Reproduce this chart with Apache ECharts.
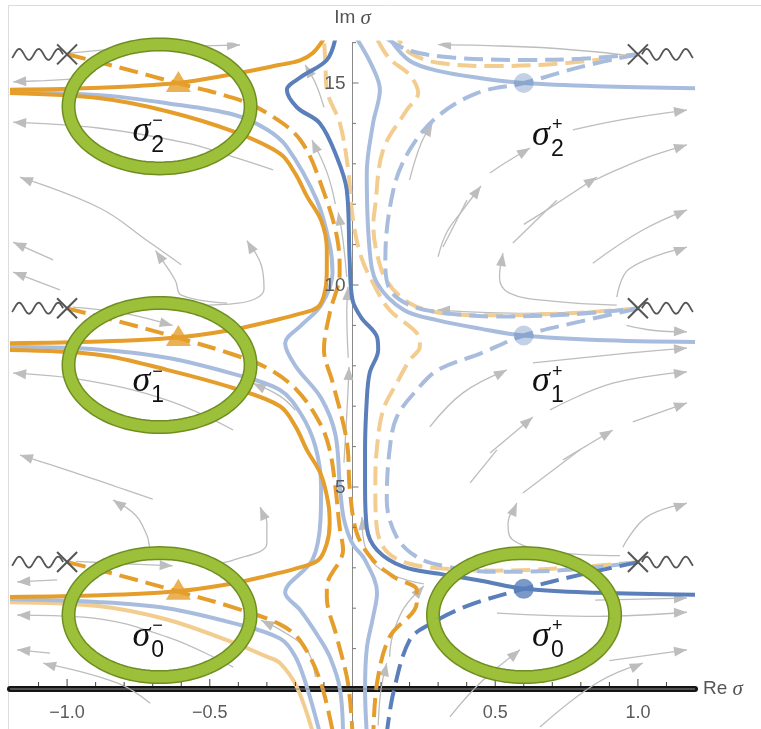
<!DOCTYPE html>
<html>
<head>
<meta charset="utf-8">
<script src="https://cdn.jsdelivr.net/npm/echarts@6.0.0/dist/echarts.min.js"></script>
<style>
  html, body { margin: 0; padding: 0; background: #ffffff; }
  #chart { width: 761px; height: 729px; }
</style>
</head>
<body>
<div id="chart"></div>
<script>
// ---------- axes ----------
const xRange = [-1.2, 1.2];
const yRange = [-1, 16];
const xMajorTicks = [-1.0, -0.5, 0.5, 1.0];
const xTickLabels = ['\u22121.0', '\u22120.5', '0.5', '1.0'];
const xMinorTicks = [-1.1, -0.9, -0.8, -0.7, -0.6, -0.4, -0.3, -0.2, -0.1, 0.1, 0.2, 0.3, 0.4, 0.6, 0.7, 0.8, 0.9, 1.1];
const yMajorTicks = [5, 10, 15];
const yTickLabels = ['5', '10', '15'];
const yMinorTicks = [1, 2, 3, 4, 6, 7, 8, 9, 11, 12, 13, 14, 16];

// ---------- special points ----------
const saddlesMinus = [[-0.61, 2.42], [-0.61, 8.70], [-0.61, 14.99]];
const saddlesPlus = [[0.6, 2.48], [0.6, 8.75], [0.6, 15.0]];
const branchPoints = [[-1, 3.1416], [-1, 9.4248], [-1, 15.708], [1, 3.1416], [1, 9.4248], [1, 15.708]];
const branchCutEnds = [-1.2, -1.2, -1.2, 1.2, 1.2, 1.2];
const ellipseCenters = [[-0.676, 1.83], [-0.676, 8.02], [-0.676, 14.42], [0.601, 1.83]];
const ellipseRadii = [0.319, 1.535];
const labelAnchors = [[-0.74, 1.3], [-0.74, 7.6], [-0.74, 13.8], [0.66, 1.3], [0.66, 7.6], [0.66, 13.7]];
const labelSubs = ['0', '1', '2', '0', '1', '2'];
const labelSups = ['\u2212', '\u2212', '\u2212', '+', '+', '+'];

// ---------- contour curves ----------
// solid orange lines through the left saddles
const orangeSolid0 = [[-1.2,2.28],[-0.884,2.32],[-0.615,2.42],[-0.43,2.6],[-0.3,2.8],[-0.2,2.98],[-0.12,3.19],[-0.09,3.6],[-0.08,4.1],[-0.085,4.6],[-0.11,5.3],[-0.16,5.92],[-0.2,6.5],[-0.254,7.0],[-0.418,7.45],[-0.65,7.9],[-0.884,8.27],[-1.2,8.39]];
const orangeSolid1 = [[-1.2,8.56],[-0.884,8.6],[-0.615,8.70],[-0.43,8.88],[-0.3,9.08],[-0.2,9.26],[-0.12,9.46],[-0.095,9.9],[-0.09,10.4],[-0.09,10.9],[-0.11,11.6],[-0.16,12.2],[-0.2,12.75],[-0.254,13.25],[-0.418,13.8],[-0.65,14.3],[-0.884,14.62],[-1.2,14.75]];
const orangeSolid2 = [[-1.2,14.83],[-0.884,14.88],[-0.615,15.0],[-0.418,15.22],[-0.254,15.45],[-0.184,15.56],[-0.138,15.75],[-0.1,16.1]];
const paleOrangeSolid0 = [[-1.2,2.15],[-0.884,2.05],[-0.65,1.72],[-0.418,1.15],[-0.3,0.8],[-0.254,0.64],[-0.195,0.05],[-0.138,-1.1]];
// pale blue solid lines below the left saddles
const blueSoftSolid0 = [[-1.2,2.22],[-0.884,2.15],[-0.65,2.0],[-0.418,1.63],[-0.254,1.25],[-0.2,0.8],[-0.16,0.05],[-0.114,-1.1]];
const blueSoftSolid1 = [[-1.2,8.47],[-0.884,8.4],[-0.65,8.2],[-0.418,7.8],[-0.254,7.4],[-0.18,6.8],[-0.13,6.0],[-0.11,5.0],[-0.112,4.2],[-0.14,3.2],[-0.236,2.38],[-0.184,1.96],[-0.12,1.3],[-0.079,0.79],[-0.044,0.0],[-0.033,-1.1]];
const blueSoftSolid2 = [[-1.2,14.78],[-0.884,14.7],[-0.65,14.5],[-0.418,14.22],[-0.3,13.85],[-0.23,13.42],[-0.125,12.1],[-0.08,11.0],[-0.07,10.3],[-0.11,9.5],[-0.18,9.0],[-0.236,8.56],[-0.2,8.0],[-0.11,7.2],[-0.06,6.3],[-0.044,5.0],[-0.03,4.2],[0.0,3.6],[0.044,3.19],[0.086,2.38],[0.072,1.78],[0.05,1.0],[0.044,-0.02],[0.05,-1.1]];
// dashed orange lines from the left branch points
const orangeDash0 = [[-1.0,3.14],[-0.825,2.83],[-0.615,2.42],[-0.418,2.02],[-0.254,1.6],[-0.184,1.2],[-0.114,0.22],[-0.068,-1.1]];
const orangeDash1 = [[-1.0,9.42],[-0.825,9.11],[-0.615,8.70],[-0.418,8.28],[-0.3,7.95],[-0.195,7.4],[-0.114,6.58],[-0.08,5.92],[-0.06,5.0],[-0.045,4.0],[-0.033,3.44],[-0.09,2.52],[-0.09,2.28],[-0.055,1.29],[-0.016,0.15],[0.0,-1.1]];
const orangeDash2 = [[-1.0,15.71],[-0.825,15.4],[-0.615,15.0],[-0.418,14.63],[-0.31,14.3],[-0.184,13.6],[-0.103,12.35],[-0.05,11.0],[-0.045,10.3],[-0.08,9.3],[-0.1,8.4],[-0.07,7.6],[-0.03,6.5],[-0.016,5.9],[-0.01,5.0],[0.015,3.86],[0.072,3.19],[0.15,2.75],[0.225,2.45],[0.225,2.13],[0.13,1.29],[0.086,0.15],[0.073,-1.1]];
// solid blue lines through the right saddles
const blueSolid0 = [[1.2,2.33],[0.856,2.38],[0.6,2.48],[0.45,2.68],[0.306,2.85],[0.18,3.02],[0.086,3.44],[0.05,4.0],[0.044,5.0],[0.044,5.92],[0.05,7.15],[0.06,7.82],[0.09,8.4],[0.086,8.71],[0.03,9.2],[0.0,9.63],[-0.01,10.62],[-0.02,12.35],[-0.055,13.17],[-0.114,14.0],[-0.195,14.4],[-0.23,14.83],[-0.18,15.15],[-0.09,15.57],[-0.06,16.1]];
const blueSoftSolid1R = [[1.2,8.59],[0.856,8.64],[0.6,8.75],[0.447,8.92],[0.296,9.13],[0.18,9.38],[0.086,10.05],[0.06,10.87],[0.05,12.77],[0.072,14.0],[0.096,14.83],[0.07,15.4],[0.015,16.1]];
const blueSoftSolid2R = [[1.2,14.87],[0.856,14.92],[0.6,15.0],[0.45,15.12],[0.3,15.3],[0.2,15.55],[0.13,16.1]];
// dashed blue lines from the right branch points
const blueDash0 = [[1.0,3.14],[0.8,2.83],[0.6,2.48],[0.4,2.05],[0.27,1.6],[0.2,1.21],[0.143,-0.1],[0.12,-1.1]];
const blueSoftDash1 = [[1.0,9.42],[0.8,9.1],[0.6,8.75],[0.447,8.3],[0.3,7.9],[0.225,7.4],[0.155,6.73],[0.13,5.92],[0.12,4.68],[0.155,3.76],[0.225,3.27],[0.317,3.05],[0.5,2.9],[0.76,2.95],[1.0,3.14]];
const blueSoftDash2 = [[1.0,15.71],[0.8,15.4],[0.6,15.0],[0.436,14.75],[0.296,14.16],[0.2,13.34],[0.143,12.35],[0.115,10.62],[0.13,9.9],[0.2,9.5],[0.3,9.33],[0.5,9.22],[0.76,9.27],[1.0,9.42]];
const blueSoftDash3 = [[0.12,16.1],[0.2,15.8],[0.35,15.63],[0.6,15.57],[0.8,15.6],[1.0,15.71]];
// pale orange dashed lines
const paleOrangeDash0 = [[1.0,3.14],[0.76,3.0],[0.5,2.93],[0.317,2.98],[0.2,3.1],[0.12,3.4],[0.085,4.0],[0.08,5.0],[0.085,5.92],[0.107,6.9],[0.155,7.57],[0.2,8.14],[0.236,8.47],[0.225,8.81],[0.13,9.38],[0.072,10.05],[0.03,10.7],[0.002,11.6],[-0.016,12.9],[-0.044,14.0],[-0.09,14.83],[-0.095,15.5],[-0.1,16.1]];
const paleOrangeDash1 = [[1.0,9.42],[0.76,9.3],[0.5,9.25],[0.317,9.3],[0.2,9.55],[0.12,10.1],[0.085,10.8],[0.073,11.5],[0.079,11.93],[0.107,13.34],[0.19,14.33],[0.23,14.75],[0.2,15.2],[0.13,15.6],[0.085,16.1]];
const paleOrangeDash2 = [[1.0,15.71],[0.76,15.5],[0.5,15.42],[0.3,15.5],[0.2,15.75],[0.16,16.1]];

// ---------- flow lines (each ends at its arrow tip) ----------
const flowLines = [
  [[-0.99,15.74],[-0.77,15.87],[-0.534,15.92],[-0.394,15.94]],
  [[-0.97,15.1],[-1.08,15.06],[-1.189,15.03]],
  [[-0.278,12.85],[-0.418,13.17],[-0.58,13.51],[-0.884,13.88],[-1.189,14.03]],
  [[-0.6,10.5],[-0.72,11.1],[-0.884,11.9],[-1.165,12.67]],
  [[-1.049,10.62],[-1.189,11.06]],
  [[-1.025,9.88],[-1.189,10.32]],
  [[-0.44,9.55],[-0.6,9.75],[-0.62,10.1],[-0.66,10.55],[-0.69,10.85]],
  [[-0.55,9.5],[-0.4,9.55],[-0.31,9.9],[-0.32,10.5],[-0.37,11.1]],
  [[-0.98,9.45],[-0.8,9.3],[-0.63,9.0]],
  [[-0.418,6.41],[-0.65,7.15],[-0.944,7.65],[-1.189,7.82]],
  [[-0.7,4.7],[-0.825,5.0],[-1.0,5.42],[-1.165,5.79]],
  [[-0.6,3.2],[-0.7,3.4],[-0.72,3.8],[-0.76,4.3],[-0.839,4.68]],
  [[-0.5,3.1],[-0.418,3.19],[-0.3,3.6],[-0.3,4.1],[-0.324,4.5]],
  [[-0.97,3.16],[-0.8,3.1],[-0.63,3.05]],
  [[-1.035,2.7],[-1.175,2.65]],
  [[-0.418,0.54],[-0.65,1.29],[-0.944,1.78],[-1.175,1.83]],
  [[-1.06,0.89],[-1.175,0.97]],
  [[-0.709,-0.35],[-0.825,0.15],[-1.084,0.64]],
  [[-0.2,6.9],[-0.254,7.25],[-0.349,7.57]],
  [[-0.13,0.3],[-0.16,0.97],[-0.25,1.45],[-0.32,1.7]],
  [[-0.1,14.4],[-0.13,15.0],[-0.166,15.45]],
  [[0.96,15.69],[0.7,15.86],[0.45,15.93],[0.3,15.95]],
  [[0.772,13.84],[0.95,14.1],[1.172,14.33]],
  [[0.85,12.6],[0.926,12.85],[1.05,13.2],[1.172,13.47]],
  [[0.3,10.7],[0.33,11.3],[0.387,11.86],[0.45,12.45]],
  [[0.482,12.77],[0.53,13.0],[0.622,13.39]],
  [[0.6,11.5],[0.681,11.86],[0.856,12.67]],
  [[0.842,10.54],[1.017,11.36],[1.172,11.86]],
  [[0.926,9.7],[0.97,10.4],[1.172,10.94]],
  [[0.97,9.42],[0.62,9.3],[0.296,9.38]],
  [[0.96,9.0],[1.05,8.88],[1.172,8.84]],
  [[0.632,8.07],[0.972,8.32],[1.172,8.44]],
  [[0.692,6.91],[0.912,7.57],[1.172,7.85]],
  [[0.982,6.61],[1.172,7.08]],
  [[0.271,6.49],[0.387,7.33],[0.541,7.9]],
  [[0.482,5.84],[0.632,6.73]],
  [[0.737,5.67],[0.912,6.41]],
  [[0.926,9.5],[0.7,9.6],[0.55,9.8],[0.515,10.2],[0.527,10.79]],
  [[0.947,3.51],[1.031,4.26],[1.172,4.6]],
  [[0.937,3.3],[0.7,3.4],[0.56,3.7],[0.545,4.1],[0.576,4.6]],
  [[0.85,2.2],[1.172,2.25]],
  [[0.506,1.88],[0.856,1.8],[1.172,1.9]],
  [[0.9,0.7],[1.172,0.97]],
  [[0.341,-0.69],[0.447,0.15],[0.587,0.97]],
  [[0.657,-0.94],[0.856,0.15],[1.017,0.64]],
  [[0.2,12.6],[0.24,13.5],[0.28,14.0]],
  [[-0.015,8.2],[-0.02,9.3],[-0.016,9.95]],
  [[-0.02,10.2],[-0.035,11.2],[-0.05,11.8]],
  [[-0.06,12.0],[-0.09,12.8],[-0.142,13.59]],
  [[-0.03,5.6],[-0.02,6.8],[-0.012,7.97]],
  [[0.25,2.6],[0.1,2.95],[0.045,3.5],[0.033,4.26]],
  [[0.09,-0.9],[0.1,0],[0.12,0.64]],
  [[0.13,0.8],[0.14,1.3],[0.18,2.0],[0.25,2.55]]
];
const flowTails = [
  [[0.317,10.94],[0.401,12.1]],
  [[0.562,11.04],[0.716,12.1]],
  [[0.412,5.1],[0.506,5.92]],
  [[0.597,4.85],[0.797,5.92]]
];

// ---------- styles ----------
const ORANGE = '#E59E2B', ORANGE_PALE = '#F3CC8F';
const BLUE = '#5A7FBA', BLUE_PALE = '#A8BDDD';
const FLOW = '#BDBDBD';
const DASH = [19, 8];
const TICK_FONT = '18px "Liberation Sans", Arial, sans-serif';

function curve(data, color, dashed, z) {
  return {
    type: 'line', data: data, showSymbol: false, smooth: 0.35, silent: true,
    clip: true, z: z || 3, animation: false,
    lineStyle: { color: color, width: 4, type: dashed ? DASH : 'solid', cap: 'butt' }
  };
}
function flow(data) {
  return {
    type: 'line', data: data, showSymbol: false, smooth: 0.4, silent: true,
    clip: true, z: 1, animation: false,
    lineStyle: { color: FLOW, width: 1.3 }
  };
}

const series = [];
flowLines.forEach(d => series.push(flow(d)));
flowTails.forEach(d => series.push(flow(d)));

// arrow heads at the end of every flow line
series.push({
  type: 'custom', z: 1, clip: true, animation: false, silent: true,
  data: flowLines.map(s => {
    const a = s[s.length - 2], b = s[s.length - 1];
    return [a[0], a[1], b[0], b[1]];
  }),
  renderItem: function (params, api) {
    const p0 = api.coord([api.value(0), api.value(1)]);
    const p1 = api.coord([api.value(2), api.value(3)]);
    const ang = Math.atan2(p1[1] - p0[1], p1[0] - p0[0]);
    const L = 13, W = 5;
    const bx = p1[0] - L * Math.cos(ang), by = p1[1] - L * Math.sin(ang);
    const nx = -Math.sin(ang) * W, ny = Math.cos(ang) * W;
    return { type: 'polygon', shape: { points: [[p1[0], p1[1]], [bx + nx, by + ny], [bx - nx, by - ny]] }, style: { fill: FLOW } };
  }
});

// contour curves
series.push(curve(paleOrangeSolid0, ORANGE_PALE, false));
series.push(curve(paleOrangeDash0, ORANGE_PALE, true));
series.push(curve(paleOrangeDash1, ORANGE_PALE, true));
series.push(curve(paleOrangeDash2, ORANGE_PALE, true));
series.push(curve(blueSoftSolid0, BLUE_PALE, false));
series.push(curve(blueSoftSolid1, BLUE_PALE, false));
series.push(curve(blueSoftSolid2, BLUE_PALE, false));
series.push(curve(blueSoftSolid1R, BLUE_PALE, false));
series.push(curve(blueSoftSolid2R, BLUE_PALE, false));
series.push(curve(blueSoftDash1, BLUE_PALE, true));
series.push(curve(blueSoftDash2, BLUE_PALE, true));
series.push(curve(blueSoftDash3, BLUE_PALE, true));
series.push(curve(orangeSolid0, ORANGE, false, 4));
series.push(curve(orangeSolid1, ORANGE, false, 4));
series.push(curve(orangeSolid2, ORANGE, false, 4));
series.push(curve(orangeDash0, ORANGE, true, 4));
series.push(curve(orangeDash1, ORANGE, true, 4));
series.push(curve(orangeDash2, ORANGE, true, 4));
series.push(curve(blueSolid0, BLUE, false, 4));
series.push(curve(blueDash0, BLUE, true, 4));

// double line along the real axis
series.push({
  type: 'line', data: [[xRange[0], 0], [xRange[1], 0]], showSymbol: false, silent: true, z: 6,
  animation: false, lineStyle: { color: '#8c8c8c', width: 1 }
});

// tick marks
series.push({
  type: 'custom', z: 6, animation: false, silent: true,
  data: xMajorTicks.map(v => [v, 7]).concat(xMinorTicks.map(v => [v, 4])),
  renderItem: function (params, api) {
    const p = api.coord([api.value(0), 0]);
    const len = api.value(1);
    return { type: 'line', shape: { x1: p[0], y1: p[1] - 3, x2: p[0], y2: p[1] - 3 - len }, style: { stroke: '#444', lineWidth: 1 } };
  }
});
series.push({
  type: 'custom', z: 6, animation: false, silent: true,
  data: yMajorTicks.map(v => [v, 6]).concat(yMinorTicks.map(v => [v, 3.5])),
  renderItem: function (params, api) {
    const p = api.coord([0, api.value(0)]);
    const len = api.value(1);
    return { type: 'line', shape: { x1: p[0], y1: p[1], x2: p[0] + len, y2: p[1] }, style: { stroke: '#777', lineWidth: 1 } };
  }
});

// tick labels, placed beside the axes that cross at the origin
series.push({
  type: 'custom', z: 6, animation: false, silent: true,
  data: xMajorTicks.map((v, i) => [v, i]),
  renderItem: function (params, api) {
    const p = api.coord([api.value(0), 0]);
    return { type: 'text', x: p[0], y: p[1] + 24, style: { text: xTickLabels[api.value(1)], font: TICK_FONT, fill: '#5a5a5a', align: 'center', verticalAlign: 'middle' } };
  }
});
series.push({
  type: 'custom', z: 6, animation: false, silent: true,
  data: yMajorTicks.map((v, i) => [v, i]),
  renderItem: function (params, api) {
    const p = api.coord([0, api.value(0)]);
    return { type: 'text', x: p[0] - 7, y: p[1] + 1, style: { text: yTickLabels[api.value(1)], font: '19px "Liberation Sans", Arial, sans-serif', fill: '#5a5a5a', align: 'right', verticalAlign: 'middle' } };
  }
});

// green rings round the saddles
series.push({
  type: 'custom', z: 7, animation: false, silent: true,
  data: ellipseCenters.map(c => [c[0], c[1], ellipseRadii[0], ellipseRadii[1]]),
  renderItem: function (params, api) {
    const c = api.coord([api.value(0), api.value(1)]);
    const s = api.size([api.value(2), api.value(3)]);
    const pts = [];
    for (let i = 0; i < 120; i++) {
      const t = i / 120 * Math.PI * 2;
      pts.push([c[0] + s[0] * Math.cos(t), c[1] + s[1] * Math.sin(t)]);
    }
    return {
      type: 'group', children: [
        { type: 'polygon', shape: { points: pts }, style: { fill: null, stroke: '#6F8E22', lineWidth: 14 } },
        { type: 'polygon', shape: { points: pts }, style: { fill: null, stroke: '#9CC039', lineWidth: 11 } }
      ]
    };
  }
});

// saddle markers
series.push({
  type: 'scatter', z: 8, animation: false, silent: true,
  data: saddlesMinus, symbol: 'triangle', symbolSize: [25, 21], symbolOffset: [0, -2],
  itemStyle: { color: ORANGE }
});
series.push({
  type: 'scatter', z: 8, animation: false, silent: true,
  data: [saddlesPlus[0]], symbol: 'circle', symbolSize: 20,
  itemStyle: { color: BLUE }
});
series.push({
  type: 'scatter', z: 8, animation: false, silent: true,
  data: saddlesPlus.slice(1), symbol: 'circle', symbolSize: 20,
  itemStyle: { color: 'rgba(90,127,186,0.45)' }
});

// branch points with their wavy cuts
series.push({
  type: 'custom', z: 8, animation: false, silent: true, clip: true,
  data: branchPoints.map((b, i) => [b[0], b[1], branchCutEnds[i]]),
  renderItem: function (params, api) {
    const p = api.coord([api.value(0), api.value(1)]);
    const e = api.coord([api.value(2), api.value(1)]);
    const dir = e[0] < p[0] ? -1 : 1;
    const pts = [];
    const len = Math.abs(e[0] - p[0]) - 2;
    for (let d = 4; d <= len; d += 1) {
      pts.push([p[0] + dir * d, p[1] - 5.5 * Math.sin((d - 4) / 19.5 * Math.PI * 2)]);
    }
    const r = 10;
    return {
      type: 'group', children: [
        { type: 'polyline', shape: { points: pts }, style: { stroke: '#555', lineWidth: 1.8, fill: null } },
        { type: 'line', shape: { x1: p[0] - r, y1: p[1] - r, x2: p[0] + r, y2: p[1] + r }, style: { stroke: '#555', lineWidth: 2 } },
        { type: 'line', shape: { x1: p[0] - r, y1: p[1] + r, x2: p[0] + r, y2: p[1] - r }, style: { stroke: '#555', lineWidth: 2 } }
      ]
    };
  }
});

// saddle labels
series.push({
  type: 'custom', z: 9, animation: false, silent: true,
  data: labelAnchors.map((a, i) => [a[0], a[1], i]),
  renderItem: function (params, api) {
    const p = api.coord([api.value(0), api.value(1)]);
    const i = api.value(2);
    return {
      type: 'group', children: [
        { type: 'text', x: p[0], y: p[1], style: { text: '\u03C3', font: 'italic 36px "Liberation Serif", "Times New Roman", serif', fill: '#111', align: 'center', verticalAlign: 'middle' } },
        { type: 'text', x: p[0] + 10, y: p[1] + 14, style: { text: labelSubs[i], font: '23px "Liberation Sans", Arial, sans-serif', fill: '#111', align: 'left', verticalAlign: 'middle' } },
        { type: 'text', x: p[0] + 11, y: p[1] - 10, style: { text: labelSups[i], font: '18px "Liberation Sans", Arial, sans-serif', fill: '#111', align: 'left', verticalAlign: 'middle' } }
      ]
    };
  }
});

const axisNameRich = {
  n: { fontSize: 19, color: '#555', fontFamily: '"Liberation Sans", Arial, sans-serif' },
  s: { fontSize: 21, color: '#555', fontStyle: 'italic', fontFamily: '"Liberation Serif", serif' }
};

const chart = echarts.init(document.getElementById('chart'), null, { renderer: 'canvas' });
chart.setOption({
  animation: false,
  backgroundColor: '#ffffff',
  grid: { left: 10, top: 42.6, width: 685, height: 686.8, containLabel: false, outerBoundsMode: 'none' },
  xAxis: {
    type: 'value', min: xRange[0], max: xRange[1],
    name: '{n|Re }{s|\u03C3}', nameLocation: 'end', nameGap: 8,
    nameTextStyle: { verticalAlign: 'middle', align: 'left', rich: axisNameRich },
    axisLine: { onZero: true, lineStyle: { color: '#141414', width: 6 } },
    axisTick: { show: false },
    splitLine: { show: false },
    axisLabel: { show: false }
  },
  yAxis: {
    type: 'value', min: yRange[0], max: yRange[1],
    name: '{n|Im }{s|\u03C3}', nameLocation: 'end', nameGap: 14,
    nameTextStyle: { align: 'center', rich: axisNameRich },
    axisLine: { onZero: true, lineStyle: { color: '#8a8a8a', width: 1 } },
    axisTick: { show: false },
    splitLine: { show: false },
    axisLabel: { show: false }
  },
  graphic: [
    { type: 'line', shape: { x1: 8.5, y1: 5.5, x2: 8.5, y2: 729 }, style: { stroke: '#dcdcdc', lineWidth: 1 }, z: 0 },
    { type: 'line', shape: { x1: 8.5, y1: 5.5, x2: 761, y2: 5.5 }, style: { stroke: '#dcdcdc', lineWidth: 1 }, z: 0 }
  ],
  series: series
});
</script>
</body>
</html>
